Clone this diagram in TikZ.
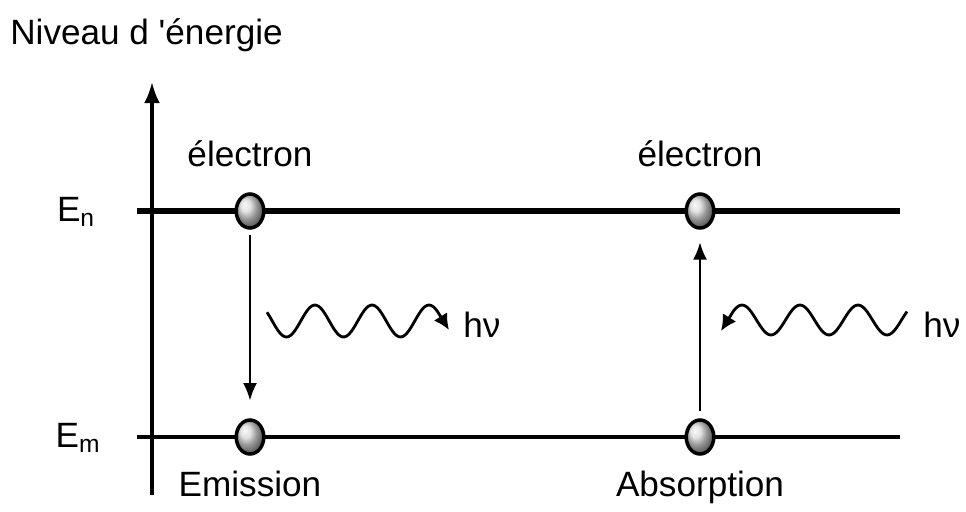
\documentclass[tikz,border=0pt]{standalone}
\usepackage{fontspec}
\setsansfont{Liberation Sans}
\usetikzlibrary{shapes.geometric, arrows.meta, positioning}

\begin{document}
\begin{tikzpicture}[
        x=0.02cm, y=-0.02cm,
        lbl/.style={font=\sffamily\fontsize{20}{24}\selectfont, inner sep=0pt},
        elec/.style={ellipse, draw, line width=2pt, minimum width=0.55cm, minimum height=0.68cm, inner sep=0pt, shading=ball, ball color=gray!30},
        axis/.style={draw, line width=1.8pt, -{Latex[length=12pt, width=9pt]}},
        lvlhaut/.style={draw, line width=3.8pt},
        lvlbas/.style={draw, line width=2pt},
        trans/.style={draw, line width=1.5pt, -{Latex[length=10pt, width=8pt]}},
        photon/.style={draw, line width=1.6pt, line join=round, -{Latex[length=9pt, width=9pt]}}
    ]
        \useasboundingbox (0,0) rectangle (966,511);

        \node [lbl, anchor=west] (titre) at (10,35) {Niveau d \textquotesingle énergie};

        \coordinate (axbas) at (152,495);
        \coordinate (axhaut) at (152,82);
        \path [axis] (axbas) -- (axhaut);

        \coordinate (nG) at (137,211);
        \coordinate (nD) at (900,211);
        \coordinate (mG) at (137,437);
        \coordinate (mD) at (900,437);
        \path [lvlhaut] (nG) -- (nD);
        \path [lvlbas] (mG) -- (mD);

        \node [lbl] (En) at (76,212) {E\textsubscript{n}};
        \node [lbl] (Em) at (78,438) {E\textsubscript{m}};

        \node [elec] (emhaut) at (250,211) {};
        \node [elec] (embas) at (250,437) {};
        \node [elec] (abhaut) at (700,211) {};
        \node [elec] (abbas) at (700,437) {};

        \node [lbl, above=0.5cm of emhaut] (elec1) {électron};
        \node [lbl, above=0.5cm of abhaut] (elec2) {électron};
        \node [lbl, below=0.3cm of embas] (emis) {Emission};
        \node [lbl, below=0.3cm of abbas] (abso) {Absorption};

        \path [trans, shorten <=3pt, shorten >=10pt] (emhaut) -- (embas);
        \path [trans, shorten <=4pt, shorten >=7pt] (abbas) -- (abhaut);

        \coordinate (tipem) at (449,330);
        \coordinate (tipab) at (721,331);
        \path [photon] plot[domain=0.158:3.15, samples=80] ({258+57*\x}, {321-16*cos(360*\x)}) -- (tipem);
        \path [photon] plot[domain=2.845:-0.15, samples=80] ({742+58*\x}, {320-15*cos(360*\x)}) -- (tipab);

        \node [lbl, anchor=west] (hv1) at (463,325) {hν};
        \node [lbl, anchor=west] (hv2) at (923,325) {hν};
    \end{tikzpicture}
\end{document}
